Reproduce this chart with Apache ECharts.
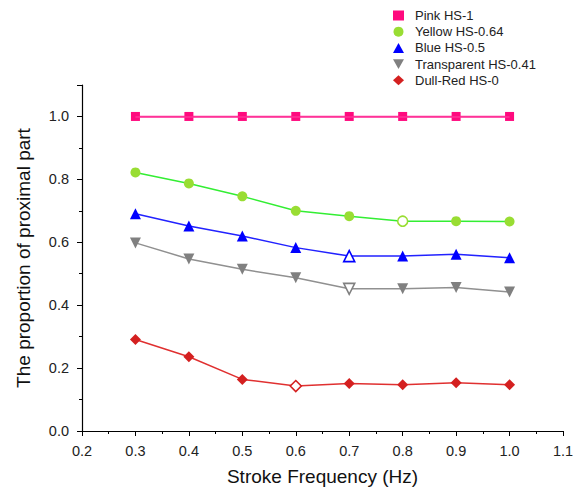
<!DOCTYPE html>
<html>
<head>
<meta charset="utf-8">
<script src="https://cdn.jsdelivr.net/npm/echarts@6/dist/echarts.min.js"></script>
<style>
  html, body { margin: 0; padding: 0; background: #fff; }
  #chart { width: 579px; height: 492px; }
</style>
</head>
<body>
<div id="chart"></div>
<script>
// stroke frequency (Hz)
const freq = [0.3, 0.4, 0.5, 0.6, 0.7, 0.8, 0.9, 1.0]

const pink = [1.0, 1.0, 1.0, 1.0, 1.0, 1.0, 1.0, 1.0]
const yellow = [0.822, 0.787, 0.746, 0.700, 0.683, 0.667, 0.667, 0.666]
const blue = [0.691, 0.652, 0.620, 0.583, 0.556, 0.556, 0.562, 0.551]
const transparent = [0.598, 0.547, 0.514, 0.487, 0.452, 0.452, 0.456, 0.442]
const dullRed = [0.291, 0.236, 0.164, 0.143, 0.151, 0.147, 0.153, 0.147]

// index of the hollow marker in each series (-1 = none)
const hollowAt = [-1, 5, 4, 4, 3]

const names = ['Pink HS-1', 'Yellow HS-0.64', 'Blue HS-0.5', 'Transparent HS-0.41', 'Dull-Red HS-0']
const markColors = ['#ff0a7e', '#99dd33', '#0000ff', '#808080', '#d42020']
const lineColors = ['#ff3399', '#33ee33', '#2222ff', '#909090', '#e03030']
const symbols = ['rect', 'circle', 'triangle', 'triangle', 'diamond']
const symbolRotates = [0, 0, 0, 180, 0]
const symbolSizes = [9, 10, 11, 11, 11]
const legendIcons = ['rect', 'circle', 'triangle', 'path://M0,0 L10,0 L5,9 Z', 'diamond']
const allData = [pink, yellow, blue, transparent, dullRed]

const chart = echarts.init(document.getElementById('chart'), null, { renderer: 'svg' })

const axisFont = { fontFamily: 'Liberation Sans', fontSize: 14.5, color: '#222' }
const nameFont = { fontFamily: 'Liberation Sans', fontSize: 19, color: '#111' }
const noGrid = { show: true, lineStyle: { color: 'rgba(0,0,0,0)' } }

const series = allData.map((vals, s) => ({
  name: names[s],
  type: 'line',
  symbol: symbols[s],
  symbolRotate: symbolRotates[s],
  symbolSize: symbolSizes[s],
  lineStyle: { color: lineColors[s], width: 1.5 },
  itemStyle: { color: markColors[s] },
  data: vals.map((v, i) => {
    if (i === hollowAt[s]) {
      return {
        value: [freq[i], v],
        itemStyle: { color: '#fff', borderColor: markColors[s], borderWidth: 1.6 }
      }
    }
    return [freq[i], v]
  })
}))

// the flat pink line does not always show up as a polyline, so trace it again
const last = freq.length - 1
series[0].markLine = {
  silent: true,
  symbol: 'none',
  label: { show: false },
  lineStyle: { color: lineColors[0], width: 1.5, type: 'solid' },
  data: [[{ coord: [freq[0], pink[0]] }, { coord: [freq[last], pink[last]] }]]
}

chart.setOption({
  animation: false,
  grid: { left: 82, right: 16, top: 85, bottom: 61 },
  legend: {
    orient: 'vertical',
    left: 388,
    top: 4,
    itemWidth: 11,
    itemHeight: 10,
    itemGap: 3.2,
    textStyle: { fontFamily: 'Liberation Sans', fontSize: 13, color: '#222', padding: [0, 0, 0, 6] },
    data: names.map((n, i) => ({ name: n, icon: legendIcons[i] }))
  },
  xAxis: {
    type: 'value',
    min: 0.2,
    max: 1.1,
    interval: 0.1,
    name: 'Stroke Frequency (Hz)',
    nameLocation: 'middle',
    nameGap: 36,
    nameTextStyle: nameFont,
    axisLine: { lineStyle: { color: '#000', width: 1.2 } },
    axisTick: { inside: false, length: 5, lineStyle: { color: '#000' } },
    minorTick: { show: true, splitNumber: 2, length: 3, lineStyle: { color: '#000' } },
    splitLine: noGrid,
    axisLabel: Object.assign({ margin: 12, formatter: v => v.toFixed(1) }, axisFont)
  },
  yAxis: {
    type: 'value',
    min: 0,
    max: 1.1,
    interval: 0.2,
    name: 'The proportion of proximal part',
    nameLocation: 'middle',
    nameGap: 49,
    nameTextStyle: nameFont,
    axisLine: { show: true, lineStyle: { color: '#000', width: 1.2 } },
    axisTick: { show: true, inside: false, length: 5, lineStyle: { color: '#000' } },
    minorTick: { show: true, splitNumber: 2, length: 3, lineStyle: { color: '#000' } },
    splitLine: noGrid,
    axisLabel: Object.assign({ margin: 13, showMaxLabel: false, formatter: v => v.toFixed(1) }, axisFont)
  },
  series: series
})
</script>
</body>
</html>
